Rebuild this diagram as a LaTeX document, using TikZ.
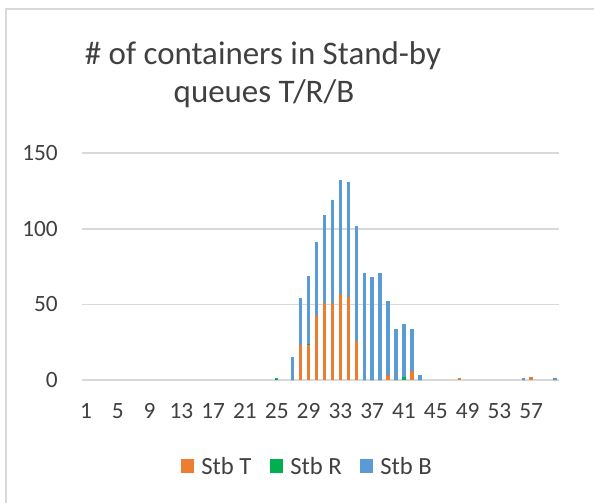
\documentclass[tikz,border=0pt]{standalone}
\usepackage{fontspec}
\setmainfont{Carlito}
\usepackage{tikz}
\usetikzlibrary{calc}
\definecolor{mygray1}{RGB}{217, 217, 217}
\definecolor{mytext}{RGB}{64, 64, 64}
\definecolor{stbT}{RGB}{237, 125, 49}
\definecolor{stbR}{RGB}{0, 176, 80}
\definecolor{stbB}{RGB}{91, 155, 213}
\tikzset{>=latex}
\tikzset{lbl/.style = {text = mytext, inner sep = 0pt, font = \fontsize{17.5}{21}\selectfont}}

\begin{document}
\begin{tikzpicture}[x = 0.75pt, y = -0.75pt]
\useasboundingbox (0,0) rectangle (594,503);
% frame of the chart
\draw[mygray1, line width = 1.5pt] (6,503) -- (6,9) -- (594,9);
% title
\node[lbl, anchor = base, font = \fontsize{24.7}{29}\selectfont] (title1) at (263,65) {\# of containers in Stand-by};
\node[lbl, anchor = base, font = \fontsize{24.7}{29}\selectfont] (title2) at (264,103) {queues T/R/B};
% grid and value axis
\foreach \v in {0,50,100,150}
{
\draw[mygray1, line width = 1.1pt] (82,{380-1.512*\v}) -- (559,{380-1.512*\v});
\node[lbl, anchor = east] (y\v) at (58,{380-1.512*\v}) {\v};
}
% stacked bars: category / T / R / B
\foreach \k/\t/\r/\b in {25/0/1/0, 27/0/0/15, 28/23/0/31, 29/23/1/45, 30/43/0/48, 31/51/0/58,
32/51/0/68, 33/57/0/75, 34/55/0/76, 35/26/0/76, 36/0/0/71, 37/0/0/68, 38/0/0/71, 39/3/0/49,
40/0/0/34, 41/0/2/35, 42/6/0/28, 43/0/0/3, 48/1/0/0, 56/0/0/1, 57/2/0/0, 60/0/0/1}
{
\pgfmathsetmacro{\xc}{82+(\k-0.5)*7.95}
\pgfmathsetmacro{\ya}{380-1.512*\t}
\pgfmathsetmacro{\yb}{\ya-1.512*\r}
\pgfmathsetmacro{\yc}{\yb-1.512*\b}
\fill[stbT] ({\xc-1.7},380) rectangle ({\xc+1.7},\ya);
\fill[stbR] ({\xc-1.7},\ya) rectangle ({\xc+1.7},\yb);
\fill[stbB] ({\xc-1.7},\yb) rectangle ({\xc+1.7},\yc);
}
% category axis
\foreach \k in {1,5,...,57}
\node[lbl] (x\k) at ({82+(\k-0.5)*7.95},411) {\k};
% legend
\node[fill = stbT, minimum size = 10pt, inner sep = 0pt] (mT) at (187.5,466) {};
\node[lbl, anchor = west, font = \fontsize{18.5}{22}\selectfont] (lT) at (201,466) {Stb T};
\node[fill = stbR, minimum size = 10pt, inner sep = 0pt] (mR) at (276.5,466) {};
\node[lbl, anchor = west, font = \fontsize{18.5}{22}\selectfont] (lR) at (290,466) {Stb R};
\node[fill = stbB, minimum size = 10pt, inner sep = 0pt] (mB) at (366.5,466) {};
\node[lbl, anchor = west, font = \fontsize{18.5}{22}\selectfont] (lB) at (380,466) {Stb B};
\end{tikzpicture}
\end{document}
